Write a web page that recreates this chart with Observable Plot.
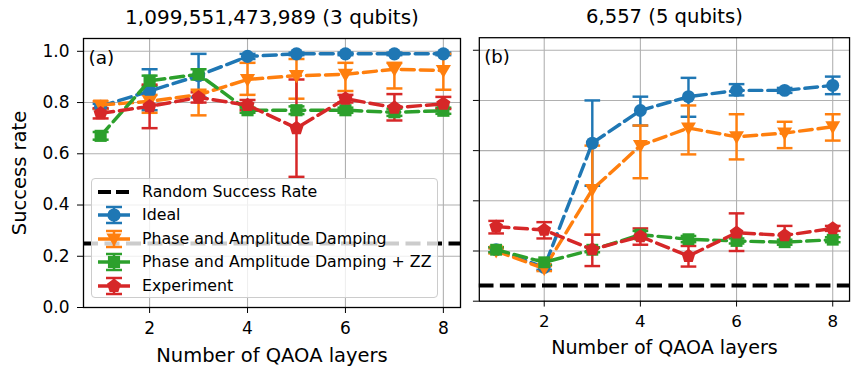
<!DOCTYPE html>
<html>
<head>
<meta charset="utf-8">
<script src="https://cdn.jsdelivr.net/npm/d3@7"></script>
<script src="https://cdn.jsdelivr.net/npm/@observablehq/plot@0.6"></script>
<style>
  html, body { margin: 0; padding: 0; background: #fff; overflow: hidden; }
  #wrap { position: relative; width: 852px; height: 367px; font-family: "DejaVu Sans", sans-serif; }
  .panel { position: absolute; top: 0; }
  #legend { position: absolute; left: 91px; top: 178px; width: 345px; height: 118px;
    background: rgba(255,255,255,0.8); border: 1px solid #cccccc; border-radius: 4px; }
  #legend .row { position: absolute; left: 0; height: 24px; display: flex; align-items: center; }
  #legend .row span { position: absolute; left: 50px; white-space: nowrap; font-size: 15.8px; color: #000; line-height: 24px; }
</style>
</head>
<body>
<div id="wrap"></div>
<script>
// ---------------- data ----------------
const layers = [1, 2, 3, 4, 5, 6, 7, 8];
const seriesNames = ["Ideal", "Phase and Amplitude Damping", "Phase and Amplitude Damping + ZZ", "Experiment"];
const seriesColors = ["#1f77b4", "#ff7f0e", "#2ca02c", "#d62728"];
const panelTitles = ["1,099,551,473,989 (3 qubits)", "6,557 (5 qubits)"];
const panelLabels = ["(a)", "(b)"];
const randomRate = [0.25, 0.0625];
const xTicks = [2, 4, 6, 8];
const yTicks = [0, 0.2, 0.4, 0.6, 0.8, 1.0];

// Panel (a)
const aIdeal   = [0.785, 0.845, 0.905, 0.98, 0.99, 0.99, 0.99, 0.99];
const aIdealLo = [0.775, 0.77, 0.82, 0.97, 0.985, 0.985, 0.985, 0.985];
const aIdealHi = [0.795, 0.93, 0.99, 0.99, 0.995, 0.995, 0.995, 0.995];
const aPAD     = [0.79, 0.805, 0.83, 0.89, 0.905, 0.91, 0.93, 0.925];
const aPADLo   = [0.775, 0.76, 0.75, 0.83, 0.815, 0.845, 0.855, 0.85];
const aPADHi   = [0.805, 0.83, 0.85, 0.955, 0.97, 0.955, 0.955, 0.99];
const aZZ      = [0.67, 0.885, 0.91, 0.77, 0.77, 0.77, 0.762, 0.768];
const aZZLo    = [0.655, 0.865, 0.89, 0.76, 0.755, 0.76, 0.748, 0.756];
const aZZHi    = [0.685, 0.905, 0.93, 0.78, 0.785, 0.78, 0.776, 0.78];
const aExp     = [0.758, 0.785, 0.82, 0.79, 0.70, 0.815, 0.78, 0.795];
const aExpLo   = [0.738, 0.70, 0.80, 0.77, 0.51, 0.80, 0.73, 0.775];
const aExpHi   = [0.778, 0.87, 0.84, 0.81, 0.89, 0.83, 0.833, 0.822];

// Panel (b)
const bIdeal   = [0.205, 0.135, 0.63, 0.76, 0.815, 0.84, 0.84, 0.86];
const bIdealLo = [0.195, 0.125, 0.46, 0.70, 0.735, 0.82, 0.83, 0.825];
const bIdealHi = [0.215, 0.145, 0.80, 0.815, 0.89, 0.865, 0.85, 0.895];
const bPAD     = [0.20, 0.13, 0.445, 0.62, 0.69, 0.655, 0.67, 0.695];
const bPADLo   = [0.19, 0.12, 0.265, 0.49, 0.585, 0.565, 0.61, 0.64];
const bPADHi   = [0.21, 0.14, 0.62, 0.70, 0.78, 0.745, 0.715, 0.745];
const bZZ      = [0.205, 0.155, 0.205, 0.265, 0.247, 0.24, 0.235, 0.245];
const bZZLo    = [0.195, 0.145, 0.195, 0.25, 0.235, 0.23, 0.225, 0.235];
const bZZHi    = [0.215, 0.165, 0.215, 0.28, 0.26, 0.25, 0.245, 0.255];
const bExp     = [0.297, 0.284, 0.206, 0.258, 0.18, 0.273, 0.262, 0.29];
const bExpLo   = [0.27, 0.25, 0.14, 0.225, 0.138, 0.20, 0.235, 0.28];
const bExpHi   = [0.32, 0.315, 0.265, 0.29, 0.22, 0.35, 0.30, 0.30];

const panels = [
  [[aIdeal, aIdealLo, aIdealHi], [aPAD, aPADLo, aPADHi], [aZZ, aZZLo, aZZHi], [aExp, aExpLo, aExpHi]],
  [[bIdeal, bIdealLo, bIdealHi], [bPAD, bPADLo, bPADHi], [bZZ, bZZLo, bZZHi], [bExp, bExpLo, bExpHi]]
];

// ---------------- marker symbols ----------------
const symCircle = {draw(ctx, size) { const r = Math.sqrt(size / Math.PI); ctx.moveTo(r, 0); ctx.arc(0, 0, r, 0, 2 * Math.PI); }};
const symTriDown = {draw(ctx, size) { const r = Math.sqrt(size / Math.PI);
  ctx.moveTo(-r * 1.15, -r * 0.85); ctx.lineTo(r * 1.15, -r * 0.85); ctx.lineTo(0, r * 1.15); ctx.closePath(); }};
const symSquare = {draw(ctx, size) { const r = Math.sqrt(size / Math.PI) * 0.92;
  ctx.rect(-r, -r, 2 * r, 2 * r); }};
const symPentagon = {draw(ctx, size) { const r = Math.sqrt(size / Math.PI) * 1.12;
  for (let k = 0; k < 5; k++) { const a = -Math.PI / 2 + k * 2 * Math.PI / 5;
    const px = r * Math.cos(a), py = r * Math.sin(a); if (k === 0) ctx.moveTo(px, py); else ctx.lineTo(px, py); }
  ctx.closePath(); }};
const symCap = {draw(ctx, size) { ctx.moveTo(-8, 0); ctx.lineTo(8, 0); }};
const markerSyms = [symCircle, symTriDown, symSquare, symPentagon];

// ---------------- build panels ----------------
const wrap = document.getElementById("wrap");
const panelBox = [
  {left: 0, width: 470, marginLeft: 83, marginRight: 10},
  {left: 470, width: 390, marginLeft: 9, marginRight: 3}
];
const font = "DejaVu Sans";

panels.forEach((panel, p) => {
  const rows = [];
  panel.forEach(([m, lo, hi], s) => layers.forEach((L, i) => rows.push({layer: L, series: seriesNames[s], s, mean: m[i], lo: lo[i], hi: hi[i]})));
  const marks = [
    Plot.gridX(xTicks, {stroke: "#b0b0b0", strokeOpacity: 1, strokeWidth: 1.1}),
    Plot.gridY(yTicks, {stroke: "#b0b0b0", strokeOpacity: 1, strokeWidth: 1.1}),
  ];
  // error bars (beneath data lines)
  seriesNames.forEach((name, s) => {
    const d = rows.filter(r => r.s === s);
    marks.push(Plot.ruleX(d, {x: "layer", y1: "lo", y2: "hi", stroke: seriesColors[s], strokeWidth: 2.5}));
    marks.push(Plot.dot(d, {x: "layer", y: "lo", symbol: symCap, r: 6, fill: "none", stroke: seriesColors[s], strokeWidth: 2.5}));
    marks.push(Plot.dot(d, {x: "layer", y: "hi", symbol: symCap, r: 6, fill: "none", stroke: seriesColors[s], strokeWidth: 2.5}));
  });
  marks.push(Plot.ruleY([randomRate[p]], {stroke: "black", strokeWidth: 4, strokeDasharray: "15,6.5"}));
  seriesNames.forEach((name, s) => {
    const d = rows.filter(r => r.s === s);
    marks.push(Plot.line(d, {x: "layer", y: "mean", stroke: seriesColors[s], strokeWidth: 3.5, strokeDasharray: "13,6"}));
    marks.push(Plot.dot(d, {x: "layer", y: "mean", symbol: markerSyms[s], r: 6.6, fill: seriesColors[s], stroke: "none"}));
  });
  marks.push(Plot.frame({stroke: "black", strokeWidth: 1.3}));
  marks.push(Plot.axisX({ticks: xTicks, tickSize: 6, tickPadding: 8, fontSize: 17, label: null}));
  marks.push(Plot.axisY({ticks: yTicks, tickSize: 6, tickPadding: 8, fontSize: 17, label: null,
    tickFormat: p === 0 ? d3.format(".1f") : () => ""}));
  marks.push(Plot.text([panelTitles[p]], {frameAnchor: "top", dy: -21, lineAnchor: "middle", fontSize: 20, fill: "black"}));
  marks.push(Plot.text([panelLabels[p]], {frameAnchor: "top-left", dx: 5, dy: 20, lineAnchor: "middle", textAnchor: "start", fontSize: 18.5, fill: "black"}));
  marks.push(Plot.text(["Number of QAOA layers"], {frameAnchor: "bottom", dy: 48, lineAnchor: "middle", fontSize: 19.5, fill: "black"}));
  if (p === 0) marks.push(Plot.text(["Success rate"], {frameAnchor: "left", dx: -64, rotate: -90, textAnchor: "middle", lineAnchor: "middle", fontSize: 19.5, fill: "black"}));

  const box = panelBox[p];
  const chart = Plot.plot({
    width: box.width, height: 367,
    marginLeft: box.marginLeft, marginRight: box.marginRight, marginTop: 38, marginBottom: 60,
    x: {domain: [0.65, 8.35]},
    y: {domain: [0, 1.05]},
    style: {fontFamily: font, fontSize: "17px", color: "black", background: "transparent", overflow: "visible"},
    marks
  });
  const div = document.createElement("div");
  div.className = "panel";
  div.style.left = box.left + "px";
  div.appendChild(chart);
  wrap.appendChild(div);
});

// ---------------- legend (overlay) ----------------
const legend = document.createElement("div");
legend.id = "legend";
const entries = [{name: "Random Success Rate", color: "black", random: true}]
  .concat(seriesNames.map((n, s) => ({name: n, color: seriesColors[s], s})));
const rowY = [13, 36, 59.5, 83, 106.5];
entries.forEach((e, k) => {
  const row = document.createElement("div");
  row.className = "row";
  row.style.top = (rowY[k] - 12) + "px";
  const svg = d3.create("svg").attr("width", 46).attr("height", 24).style("position", "absolute").style("left", "0px");
  if (e.random) {
    svg.append("line").attr("x1", 6).attr("x2", 38).attr("y1", 12).attr("y2", 12)
      .attr("stroke", "black").attr("stroke-width", 4).attr("stroke-dasharray", "13,5");
  } else {
    const g = svg.append("g").attr("stroke", e.color).attr("fill", e.color);
    g.append("line").attr("x1", 6).attr("x2", 38).attr("y1", 12).attr("y2", 12).attr("stroke-width", 3.5);
    g.append("line").attr("x1", 22).attr("x2", 22).attr("y1", 4).attr("y2", 20).attr("stroke-width", 2.5);
    g.append("line").attr("x1", 14).attr("x2", 30).attr("y1", 4).attr("y2", 4).attr("stroke-width", 2.5);
    g.append("line").attr("x1", 14).attr("x2", 30).attr("y1", 20).attr("y2", 20).attr("stroke-width", 2.5);
    const sym = d3.symbol(markerSyms[e.s], 6.6 * 6.6 * Math.PI);
    g.append("path").attr("d", sym()).attr("transform", "translate(22,12)").attr("stroke", "none");
  }
  row.appendChild(svg.node());
  const span = document.createElement("span");
  span.textContent = e.name;
  row.appendChild(span);
  legend.appendChild(row);
});
wrap.appendChild(legend);
</script>
</body>
</html>
